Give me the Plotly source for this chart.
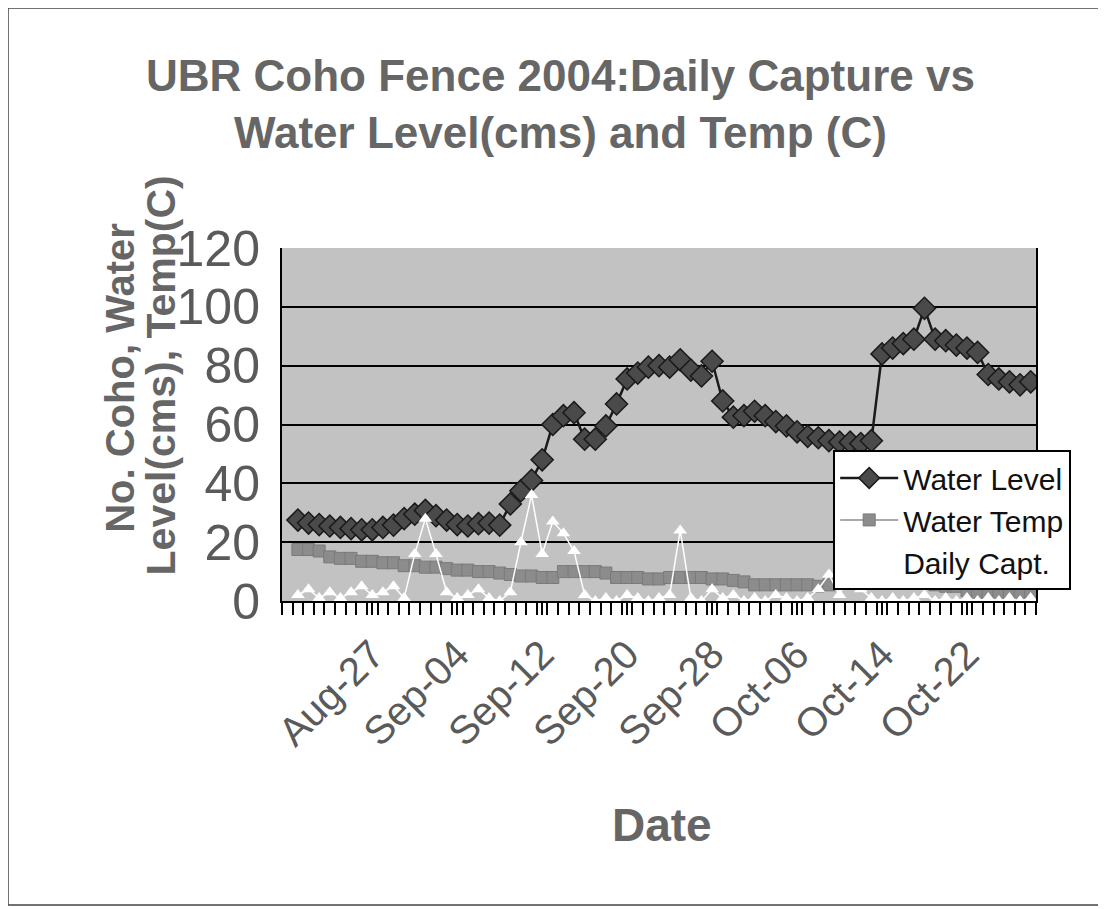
import pandas as pd
import plotly.graph_objects as go

# Daily series, Aug-20 .. Oct-28 2004
DATES = pd.date_range("2004-08-20", "2004-10-28", freq="D")

WATER_LEVEL = [
    27.5, 26.5, 26, 25.5, 25, 24.6, 24.2, 24.2, 25, 25.8,
    28, 29.5, 30.8, 29, 27.5, 26, 25.5, 26.3, 26.5, 25.8,
    33, 37.5, 41, 48, 60, 63, 64, 55, 55, 59.5,
    67, 75.5, 77.5, 79.5, 80, 79.5, 82, 78.5, 76.5, 81.5,
    68, 62.5, 63, 64.5, 63, 61, 59.5, 57.5, 56, 55.5,
    54.5, 54, 54, 53.5, 54.5, 84, 86, 87.5, 89, 99.5,
    89, 88.5, 87, 86, 84.5, 77, 75.5, 74.5, 73.5, 74.5,
]

WATER_TEMP = [
    17.5, 17.5, 17, 15, 14.5, 14.5, 13.5, 13.5, 13, 13,
    12, 12, 11.5, 11.5, 11, 10.5, 10.5, 10, 10, 9.5,
    9, 8.5, 8.5, 8, 8, 10, 10, 10, 10, 9.5,
    8, 8, 8, 7.5, 7.5, 8, 8, 8, 8, 7.5,
    7.5, 7, 6.5, 5.5, 5.5, 5.5, 5.5, 5.5, 5.5, 5,
    5.5, 7, 7.5, 8, 8, 8, 7.5, 7.5, 7, 6.5,
    5.5, 5, 5, 3.5, 3, 2.5, 2.5, 2.5, 2.5, 2.5,
]

DAILY_CAPT = [
    2, 4, 1, 3, 1, 3, 5, 2, 3, 5,
    1, 16, 28, 16, 3, 1, 2, 4, 1, 0,
    3, 20, 36, 16, 27, 23, 17, 2, 0, 1,
    0, 2, 1, 0, 1, 2, 24, 1, 0, 4,
    1, 2, 0, 1, 0, 2, 1, 0, 1, 4,
    9, 2, 10, 4, 1, 0, 1, 0, 1, 2,
    0, 1, 0, 1, 0, 1, 0, 1, 0, 1,
]

TICK_DATES = ["2004-08-27", "2004-09-04", "2004-09-12", "2004-09-20",
              "2004-09-28", "2004-10-06", "2004-10-14", "2004-10-22"]
TICK_LABELS = ["Aug-27", "Sep-04", "Sep-12", "Sep-20",
               "Sep-28", "Oct-06", "Oct-14", "Oct-22"]

FONT = "Liberation Sans, Arial, sans-serif"
GREY_TXT = "#666"

fig = go.Figure()

fig.add_trace(go.Scatter(
    x=DATES, y=WATER_LEVEL, name="Water Level", mode="lines+markers",
    line=dict(color="#1a1a1a", width=2.5),
    marker=dict(symbol="diamond", size=17, color="#4a4a4a",
                line=dict(color="#1a1a1a", width=1.5)),
))
fig.add_trace(go.Scatter(
    x=DATES, y=WATER_TEMP, name="Water Temp", mode="lines+markers",
    line=dict(color="#8c8c8c", width=1.5),
    marker=dict(symbol="square", size=12, color="#8c8c8c",
                line=dict(color="#7a7a7a", width=1)),
))
fig.add_trace(go.Scatter(
    x=DATES, y=DAILY_CAPT, name="Daily Capt.", mode="lines+markers",
    line=dict(color="white", width=1.5),
    marker=dict(symbol="triangle-up", size=12, color="white"),
))

fig.update_layout(
    width=1106, height=909,
    paper_bgcolor="white", plot_bgcolor="#c2c2c2",
    margin=dict(l=274, r=78, t=240, b=316),
    font=dict(family=FONT, color="#111"),
    showlegend=True,
    legend=dict(
        x=0.731, y=0.428, xanchor="left", yanchor="top",
        bgcolor="white", bordercolor="black", borderwidth=2,
        font=dict(size=30, color="#111", family=FONT),
        tracegroupgap=0, itemwidth=58,
    ),
    xaxis=dict(
        type="date",
        range=["2004-08-18 12:00", "2004-10-28 12:00"],
        tickvals=TICK_DATES, ticktext=TICK_LABELS,
        tickangle=-45,
        tickfont=dict(size=40, color="#5a5a5a", family=FONT),
        ticks="outside", ticklen=12, tickcolor="black", tickwidth=1.5,
        minor=dict(ticks="outside", dtick=86400000, tick0="2004-08-18 12:00",
                   ticklen=12, tickcolor="black", tickwidth=1.5, showgrid=False),
        showgrid=False, showline=True, linecolor="black", linewidth=2,
        zeroline=False,
    ),
    yaxis=dict(
        range=[0, 120], dtick=20,
        tickfont=dict(size=50, color="#5a5a5a", family=FONT),
        ticklabelstandoff=10,
        showgrid=True, gridcolor="black", gridwidth=2,
        showline=True, linecolor="black", linewidth=2, mirror=True,
        zeroline=False, ticks="",
    ),
)

# Title
fig.add_annotation(
    text="<b>UBR Coho Fence 2004:Daily Capture vs<br>Water Level(cms) and Temp (C)</b>",
    xref="paper", yref="paper", x=0.37, y=1.408, xanchor="center", yanchor="middle",
    showarrow=False, font=dict(size=44, color=GREY_TXT, family=FONT),
)
# Y axis title, one annotation per line
fig.add_annotation(
    text="<b>No. Coho, Water</b>",
    xref="paper", yref="paper", x=-0.215, y=0.632, xanchor="center", yanchor="middle",
    textangle=-90, showarrow=False, font=dict(size=40, color=GREY_TXT, family=FONT),
)
fig.add_annotation(
    text="<b>Level(cms), Temp(C)</b>",
    xref="paper", yref="paper", x=-0.16, y=0.64, xanchor="center", yanchor="middle",
    textangle=-90, showarrow=False, font=dict(size=41, color=GREY_TXT, family=FONT),
)
fig.add_annotation(
    text="<b>Date</b>",
    xref="paper", yref="paper", x=0.504, y=-0.635, xanchor="center", yanchor="middle",
    showarrow=False, font=dict(size=46, color=GREY_TXT, family=FONT),
)

# Chart border
fig.add_shape(type="rect", xref="paper", yref="paper",
              x0=-0.3634, x1=1.089, y0=-0.861, y1=1.68,
              line=dict(color="#444", width=1.5), layer="below")

fig.write_html("out.html")
